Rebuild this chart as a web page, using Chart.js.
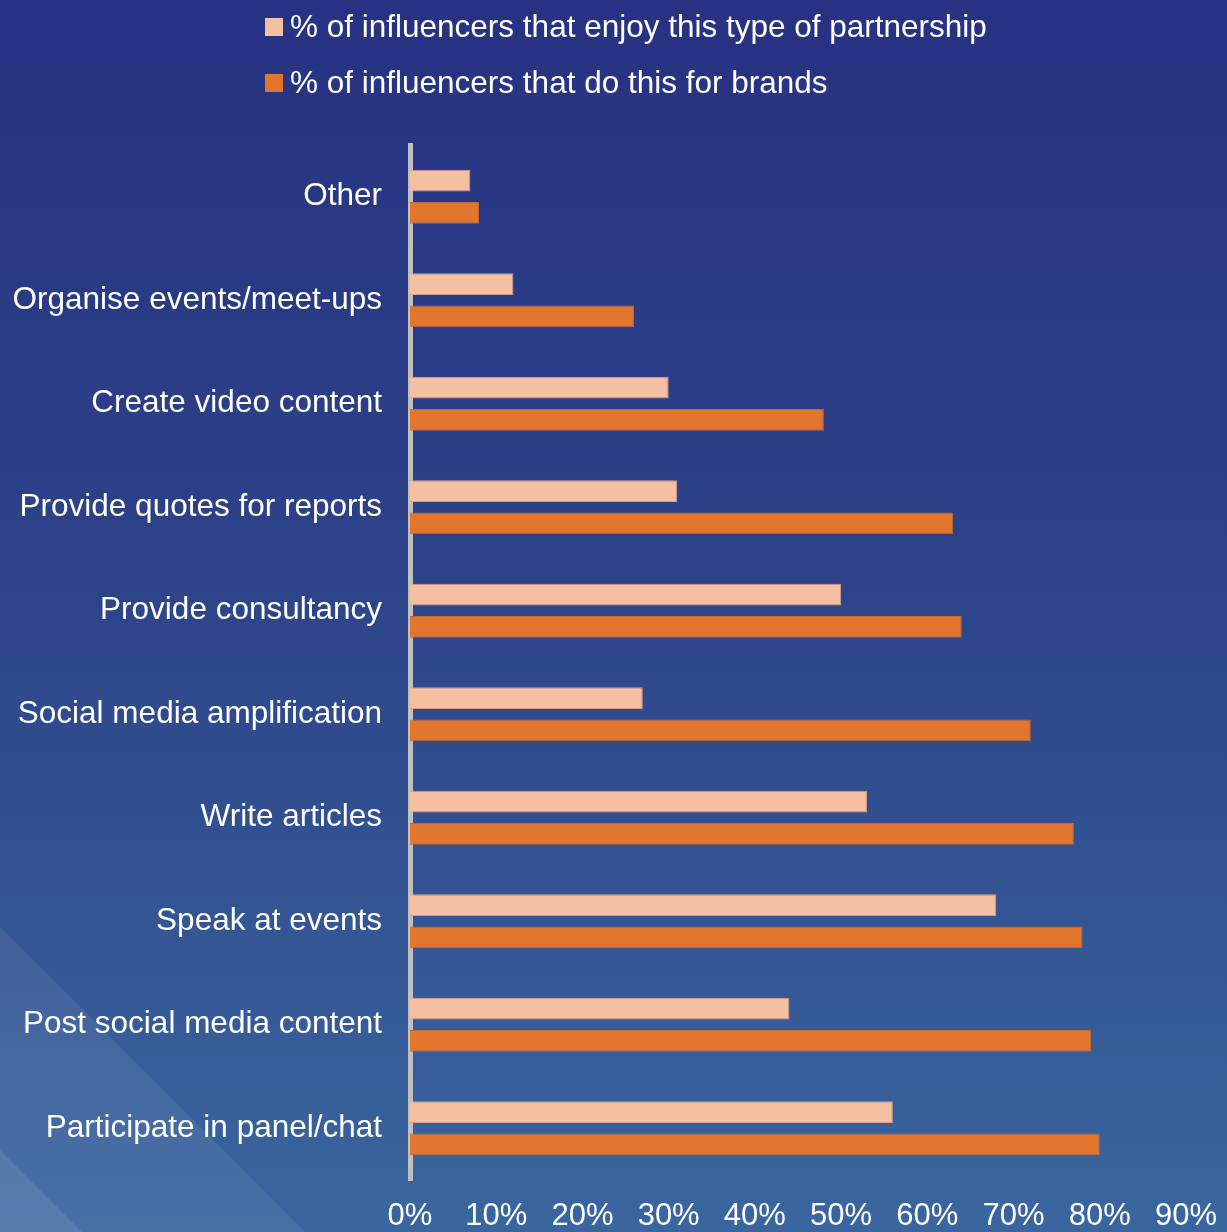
<!DOCTYPE html>
<html lang="en">
<head>
  <meta charset="UTF-8" />
  <title>Influencer partnerships</title>
  <script src="https://cdn.jsdelivr.net/npm/chart.js"></script>
  <style>
    html, body { margin: 0; padding: 0; background: #273282; }
    .wrap { position: relative; width: 1227px; height: 1232px; overflow: hidden; }
    canvas { display: block; }
    .legend { position: absolute; left: 265px; top: 0; font-family: "Liberation Sans", Arial, sans-serif; font-size: 31.5px; color: #fff; }
    .legend-item { position: absolute; left: 0; white-space: nowrap; display: flex; align-items: center; }
    .legend-box { width: 18px; height: 18px; margin-right: 7px; }
  </style>
</head>
<body>
  <div class="wrap">
    <canvas id="chart" width="1227" height="1232"></canvas>
    <div class="legend" id="legend"></div>
  </div>

  <script>
    const categories = [
      "Other",
      "Organise events/meet-ups",
      "Create video content",
      "Provide quotes for reports",
      "Provide consultancy",
      "Social media amplification",
      "Write articles",
      "Speak at events",
      "Post social media content",
      "Participate in panel/chat"
    ];
    const enjoyValues = [7, 12, 30, 31, 50, 27, 53, 68, 44, 56];
    const doValues = [8, 26, 48, 63, 64, 72, 77, 78, 79, 80];
    const seriesNames = [
      "% of influencers that enjoy this type of partnership",
      "% of influencers that do this for brands"
    ];
    const xTicks = [0, 10, 20, 30, 40, 50, 60, 70, 80, 90];

    const lightOrange = "#f5c0a1";
    const darkOrange = "#e2762f";
    const font = "'Liberation Sans', Arial, sans-serif";

    // gradient backdrop with the pale diagonal wedges in the lower left corner
    const backdrop = {
      id: "backdrop",
      beforeDraw(chart) {
        const { ctx, width, height } = chart;
        ctx.save();
        const g = ctx.createLinearGradient(0, 0, 0, height);
        g.addColorStop(0, "#273282");
        g.addColorStop(0.45, "#2c4288");
        g.addColorStop(1, "#3a669f");
        ctx.fillStyle = g;
        ctx.fillRect(0, 0, width, height);

        ctx.fillStyle = "rgba(255,255,255,0.07)";
        ctx.beginPath();
        ctx.moveTo(0, 927);
        ctx.lineTo(305, height);
        ctx.lineTo(0, height);
        ctx.closePath();
        ctx.fill();

        ctx.fillStyle = "rgba(255,255,255,0.09)";
        ctx.beginPath();
        ctx.moveTo(0, 1150);
        ctx.lineTo(82, height);
        ctx.lineTo(0, height);
        ctx.closePath();
        ctx.fill();
        ctx.restore();
      }
    };

    const chart = new Chart(document.getElementById("chart"), {
      type: "bar",
      data: {
        labels: categories,
        datasets: [
          {
            label: seriesNames[0],
            data: enjoyValues,
            backgroundColor: lightOrange,
            borderColor: "#dc9e88",
            borderWidth: 1,
            borderSkipped: "start"
          },
          {
            label: seriesNames[1],
            data: doValues,
            backgroundColor: darkOrange,
            borderColor: "#c0683a",
            borderWidth: 1,
            borderSkipped: "start"
          }
        ]
      },
      options: {
        indexAxis: "y",
        responsive: false,
        animation: false,
        events: [],
        categoryPercentage: 0.62,
        barPercentage: 0.68,
        layout: { padding: { top: 145, right: 41, left: 0, bottom: 0 } },
        scales: {
          x: {
            min: 0,
            max: 90,
            afterBuildTicks: s => { s.ticks = xTicks.map(v => ({ value: v })); },
            afterFit: s => { s.height = 52; },
            grid: { display: false, drawTicks: false },
            border: { display: false },
            ticks: {
              color: "#ffffff",
              padding: 10,
              font: { family: font, size: 31, lineHeight: 1.7 },
              callback: v => v + "%"
            }
          },
          y: {
            z: 1,
            afterFit: s => { s.width = 410; },
            grid: { display: false, drawTicks: false },
            border: { display: true, color: "#c0c0c0", width: 5 },
            ticks: {
              color: "#ffffff",
              padding: 28,
              font: { family: font, size: 31.5 }
            }
          }
        },
        plugins: {
          legend: { display: false },
          tooltip: { enabled: false }
        }
      },
      plugins: [backdrop]
    });

    // legend stacked on two lines, built from the datasets
    const legendEl = document.getElementById("legend");
    const legendTops = [8, 64];
    chart.data.datasets.forEach((ds, i) => {
      const item = document.createElement("div");
      item.className = "legend-item";
      item.style.top = legendTops[i] + "px";
      const box = document.createElement("span");
      box.className = "legend-box";
      box.style.background = ds.backgroundColor;
      const txt = document.createElement("span");
      txt.textContent = ds.label;
      item.appendChild(box);
      item.appendChild(txt);
      legendEl.appendChild(item);
    });
  </script>
</body>
</html>
